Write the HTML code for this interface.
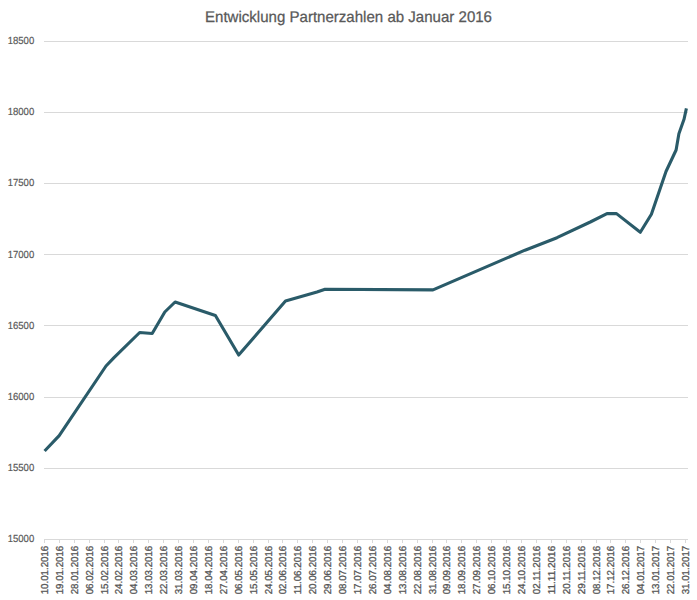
<!DOCTYPE html><html><head><meta charset="utf-8"><style>html,body{margin:0;padding:0;background:#fff;width:697px;height:600px;overflow:hidden}svg{display:block}text{font-family:"Liberation Sans",sans-serif;text-rendering:geometricPrecision}</style></head><body>
<svg width="697" height="600" viewBox="0 0 697 600">
<rect width="697" height="600" fill="#fff"/>
<g transform="translate(0 21.9) scale(1 1.03)"><text x="348.5" y="0" text-anchor="middle" font-size="15" fill="#595959" stroke="#595959" stroke-width="0.25" textLength="287" lengthAdjust="spacingAndGlyphs">Entwicklung Partnerzahlen ab Januar 2016</text></g>
<line x1="44" y1="41.5" x2="688" y2="41.5" stroke="#d9d9d9" stroke-width="1"/>
<text x="34.2" y="44.10" text-anchor="end" font-size="10.3" fill="#595959" stroke="#595959" stroke-width="0.2" textLength="26.5" lengthAdjust="spacingAndGlyphs">18500</text>
<line x1="44" y1="112.5" x2="688" y2="112.5" stroke="#d9d9d9" stroke-width="1"/>
<text x="34.2" y="115.10" text-anchor="end" font-size="10.3" fill="#595959" stroke="#595959" stroke-width="0.2" textLength="26.5" lengthAdjust="spacingAndGlyphs">18000</text>
<line x1="44" y1="183.5" x2="688" y2="183.5" stroke="#d9d9d9" stroke-width="1"/>
<text x="34.2" y="186.10" text-anchor="end" font-size="10.3" fill="#595959" stroke="#595959" stroke-width="0.2" textLength="26.5" lengthAdjust="spacingAndGlyphs">17500</text>
<line x1="44" y1="254.5" x2="688" y2="254.5" stroke="#d9d9d9" stroke-width="1"/>
<text x="34.2" y="258.00" text-anchor="end" font-size="10.3" fill="#595959" stroke="#595959" stroke-width="0.2" textLength="26.5" lengthAdjust="spacingAndGlyphs">17000</text>
<line x1="44" y1="325.5" x2="688" y2="325.5" stroke="#d9d9d9" stroke-width="1"/>
<text x="34.2" y="329.00" text-anchor="end" font-size="10.3" fill="#595959" stroke="#595959" stroke-width="0.2" textLength="26.5" lengthAdjust="spacingAndGlyphs">16500</text>
<line x1="44" y1="397.5" x2="688" y2="397.5" stroke="#d9d9d9" stroke-width="1"/>
<text x="34.2" y="400.10" text-anchor="end" font-size="10.3" fill="#595959" stroke="#595959" stroke-width="0.2" textLength="26.5" lengthAdjust="spacingAndGlyphs">16000</text>
<line x1="44" y1="468.5" x2="688" y2="468.5" stroke="#d9d9d9" stroke-width="1"/>
<text x="34.2" y="471.10" text-anchor="end" font-size="10.3" fill="#595959" stroke="#595959" stroke-width="0.2" textLength="26.5" lengthAdjust="spacingAndGlyphs">15500</text>
<line x1="44" y1="539.5" x2="688" y2="539.5" stroke="#d9d9d9" stroke-width="1"/>
<text x="34.2" y="542.10" text-anchor="end" font-size="10.3" fill="#595959" stroke="#595959" stroke-width="0.2" textLength="26.5" lengthAdjust="spacingAndGlyphs">15000</text>
<line x1="44.5" y1="540" x2="44.5" y2="543" stroke="#d9d9d9" stroke-width="1"/>
<text transform="translate(47.90,594.3) rotate(-90)" font-size="10" fill="#555" stroke="#555" stroke-width="0.3" textLength="48.5" lengthAdjust="spacingAndGlyphs">10.01.2016</text>
<line x1="59.5" y1="540" x2="59.5" y2="543" stroke="#d9d9d9" stroke-width="1"/>
<text transform="translate(62.81,594.3) rotate(-90)" font-size="10" fill="#555" stroke="#555" stroke-width="0.3" textLength="48.5" lengthAdjust="spacingAndGlyphs">19.01.2016</text>
<line x1="74.5" y1="540" x2="74.5" y2="543" stroke="#d9d9d9" stroke-width="1"/>
<text transform="translate(77.72,594.3) rotate(-90)" font-size="10" fill="#555" stroke="#555" stroke-width="0.3" textLength="48.5" lengthAdjust="spacingAndGlyphs">28.01.2016</text>
<line x1="89.5" y1="540" x2="89.5" y2="543" stroke="#d9d9d9" stroke-width="1"/>
<text transform="translate(92.63,594.3) rotate(-90)" font-size="10" fill="#555" stroke="#555" stroke-width="0.3" textLength="48.5" lengthAdjust="spacingAndGlyphs">06.02.2016</text>
<line x1="104.5" y1="540" x2="104.5" y2="543" stroke="#d9d9d9" stroke-width="1"/>
<text transform="translate(107.54,594.3) rotate(-90)" font-size="10" fill="#555" stroke="#555" stroke-width="0.3" textLength="48.5" lengthAdjust="spacingAndGlyphs">15.02.2016</text>
<line x1="118.5" y1="540" x2="118.5" y2="543" stroke="#d9d9d9" stroke-width="1"/>
<text transform="translate(122.45,594.3) rotate(-90)" font-size="10" fill="#555" stroke="#555" stroke-width="0.3" textLength="48.5" lengthAdjust="spacingAndGlyphs">24.02.2016</text>
<line x1="133.5" y1="540" x2="133.5" y2="543" stroke="#d9d9d9" stroke-width="1"/>
<text transform="translate(137.36,594.3) rotate(-90)" font-size="10" fill="#555" stroke="#555" stroke-width="0.3" textLength="48.5" lengthAdjust="spacingAndGlyphs">04.03.2016</text>
<line x1="148.5" y1="540" x2="148.5" y2="543" stroke="#d9d9d9" stroke-width="1"/>
<text transform="translate(152.27,594.3) rotate(-90)" font-size="10" fill="#555" stroke="#555" stroke-width="0.3" textLength="48.5" lengthAdjust="spacingAndGlyphs">13.03.2016</text>
<line x1="163.5" y1="540" x2="163.5" y2="543" stroke="#d9d9d9" stroke-width="1"/>
<text transform="translate(167.18,594.3) rotate(-90)" font-size="10" fill="#555" stroke="#555" stroke-width="0.3" textLength="48.5" lengthAdjust="spacingAndGlyphs">22.03.2016</text>
<line x1="178.5" y1="540" x2="178.5" y2="543" stroke="#d9d9d9" stroke-width="1"/>
<text transform="translate(182.09,594.3) rotate(-90)" font-size="10" fill="#555" stroke="#555" stroke-width="0.3" textLength="48.5" lengthAdjust="spacingAndGlyphs">31.03.2016</text>
<line x1="193.5" y1="540" x2="193.5" y2="543" stroke="#d9d9d9" stroke-width="1"/>
<text transform="translate(197.00,594.3) rotate(-90)" font-size="10" fill="#555" stroke="#555" stroke-width="0.3" textLength="48.5" lengthAdjust="spacingAndGlyphs">09.04.2016</text>
<line x1="208.5" y1="540" x2="208.5" y2="543" stroke="#d9d9d9" stroke-width="1"/>
<text transform="translate(211.91,594.3) rotate(-90)" font-size="10" fill="#555" stroke="#555" stroke-width="0.3" textLength="48.5" lengthAdjust="spacingAndGlyphs">18.04.2016</text>
<line x1="223.5" y1="540" x2="223.5" y2="543" stroke="#d9d9d9" stroke-width="1"/>
<text transform="translate(226.82,594.3) rotate(-90)" font-size="10" fill="#555" stroke="#555" stroke-width="0.3" textLength="48.5" lengthAdjust="spacingAndGlyphs">27.04.2016</text>
<line x1="238.5" y1="540" x2="238.5" y2="543" stroke="#d9d9d9" stroke-width="1"/>
<text transform="translate(241.73,594.3) rotate(-90)" font-size="10" fill="#555" stroke="#555" stroke-width="0.3" textLength="48.5" lengthAdjust="spacingAndGlyphs">06.05.2016</text>
<line x1="253.5" y1="540" x2="253.5" y2="543" stroke="#d9d9d9" stroke-width="1"/>
<text transform="translate(256.64,594.3) rotate(-90)" font-size="10" fill="#555" stroke="#555" stroke-width="0.3" textLength="48.5" lengthAdjust="spacingAndGlyphs">15.05.2016</text>
<line x1="268.5" y1="540" x2="268.5" y2="543" stroke="#d9d9d9" stroke-width="1"/>
<text transform="translate(271.55,594.3) rotate(-90)" font-size="10" fill="#555" stroke="#555" stroke-width="0.3" textLength="48.5" lengthAdjust="spacingAndGlyphs">24.05.2016</text>
<line x1="282.5" y1="540" x2="282.5" y2="543" stroke="#d9d9d9" stroke-width="1"/>
<text transform="translate(286.46,594.3) rotate(-90)" font-size="10" fill="#555" stroke="#555" stroke-width="0.3" textLength="48.5" lengthAdjust="spacingAndGlyphs">02.06.2016</text>
<line x1="297.5" y1="540" x2="297.5" y2="543" stroke="#d9d9d9" stroke-width="1"/>
<text transform="translate(301.37,594.3) rotate(-90)" font-size="10" fill="#555" stroke="#555" stroke-width="0.3" textLength="48.5" lengthAdjust="spacingAndGlyphs">11.06.2016</text>
<line x1="312.5" y1="540" x2="312.5" y2="543" stroke="#d9d9d9" stroke-width="1"/>
<text transform="translate(316.28,594.3) rotate(-90)" font-size="10" fill="#555" stroke="#555" stroke-width="0.3" textLength="48.5" lengthAdjust="spacingAndGlyphs">20.06.2016</text>
<line x1="327.5" y1="540" x2="327.5" y2="543" stroke="#d9d9d9" stroke-width="1"/>
<text transform="translate(331.19,594.3) rotate(-90)" font-size="10" fill="#555" stroke="#555" stroke-width="0.3" textLength="48.5" lengthAdjust="spacingAndGlyphs">29.06.2016</text>
<line x1="342.5" y1="540" x2="342.5" y2="543" stroke="#d9d9d9" stroke-width="1"/>
<text transform="translate(346.10,594.3) rotate(-90)" font-size="10" fill="#555" stroke="#555" stroke-width="0.3" textLength="48.5" lengthAdjust="spacingAndGlyphs">08.07.2016</text>
<line x1="357.5" y1="540" x2="357.5" y2="543" stroke="#d9d9d9" stroke-width="1"/>
<text transform="translate(361.01,594.3) rotate(-90)" font-size="10" fill="#555" stroke="#555" stroke-width="0.3" textLength="48.5" lengthAdjust="spacingAndGlyphs">17.07.2016</text>
<line x1="372.5" y1="540" x2="372.5" y2="543" stroke="#d9d9d9" stroke-width="1"/>
<text transform="translate(375.92,594.3) rotate(-90)" font-size="10" fill="#555" stroke="#555" stroke-width="0.3" textLength="48.5" lengthAdjust="spacingAndGlyphs">26.07.2016</text>
<line x1="387.5" y1="540" x2="387.5" y2="543" stroke="#d9d9d9" stroke-width="1"/>
<text transform="translate(390.83,594.3) rotate(-90)" font-size="10" fill="#555" stroke="#555" stroke-width="0.3" textLength="48.5" lengthAdjust="spacingAndGlyphs">04.08.2016</text>
<line x1="402.5" y1="540" x2="402.5" y2="543" stroke="#d9d9d9" stroke-width="1"/>
<text transform="translate(405.74,594.3) rotate(-90)" font-size="10" fill="#555" stroke="#555" stroke-width="0.3" textLength="48.5" lengthAdjust="spacingAndGlyphs">13.08.2016</text>
<line x1="417.5" y1="540" x2="417.5" y2="543" stroke="#d9d9d9" stroke-width="1"/>
<text transform="translate(420.65,594.3) rotate(-90)" font-size="10" fill="#555" stroke="#555" stroke-width="0.3" textLength="48.5" lengthAdjust="spacingAndGlyphs">22.08.2016</text>
<line x1="432.5" y1="540" x2="432.5" y2="543" stroke="#d9d9d9" stroke-width="1"/>
<text transform="translate(435.56,594.3) rotate(-90)" font-size="10" fill="#555" stroke="#555" stroke-width="0.3" textLength="48.5" lengthAdjust="spacingAndGlyphs">31.08.2016</text>
<line x1="446.5" y1="540" x2="446.5" y2="543" stroke="#d9d9d9" stroke-width="1"/>
<text transform="translate(450.47,594.3) rotate(-90)" font-size="10" fill="#555" stroke="#555" stroke-width="0.3" textLength="48.5" lengthAdjust="spacingAndGlyphs">09.09.2016</text>
<line x1="461.5" y1="540" x2="461.5" y2="543" stroke="#d9d9d9" stroke-width="1"/>
<text transform="translate(465.38,594.3) rotate(-90)" font-size="10" fill="#555" stroke="#555" stroke-width="0.3" textLength="48.5" lengthAdjust="spacingAndGlyphs">18.09.2016</text>
<line x1="476.5" y1="540" x2="476.5" y2="543" stroke="#d9d9d9" stroke-width="1"/>
<text transform="translate(480.29,594.3) rotate(-90)" font-size="10" fill="#555" stroke="#555" stroke-width="0.3" textLength="48.5" lengthAdjust="spacingAndGlyphs">27.09.2016</text>
<line x1="491.5" y1="540" x2="491.5" y2="543" stroke="#d9d9d9" stroke-width="1"/>
<text transform="translate(495.20,594.3) rotate(-90)" font-size="10" fill="#555" stroke="#555" stroke-width="0.3" textLength="48.5" lengthAdjust="spacingAndGlyphs">06.10.2016</text>
<line x1="506.5" y1="540" x2="506.5" y2="543" stroke="#d9d9d9" stroke-width="1"/>
<text transform="translate(510.11,594.3) rotate(-90)" font-size="10" fill="#555" stroke="#555" stroke-width="0.3" textLength="48.5" lengthAdjust="spacingAndGlyphs">15.10.2016</text>
<line x1="521.5" y1="540" x2="521.5" y2="543" stroke="#d9d9d9" stroke-width="1"/>
<text transform="translate(525.02,594.3) rotate(-90)" font-size="10" fill="#555" stroke="#555" stroke-width="0.3" textLength="48.5" lengthAdjust="spacingAndGlyphs">24.10.2016</text>
<line x1="536.5" y1="540" x2="536.5" y2="543" stroke="#d9d9d9" stroke-width="1"/>
<text transform="translate(539.93,594.3) rotate(-90)" font-size="10" fill="#555" stroke="#555" stroke-width="0.3" textLength="48.5" lengthAdjust="spacingAndGlyphs">02.11.2016</text>
<line x1="551.5" y1="540" x2="551.5" y2="543" stroke="#d9d9d9" stroke-width="1"/>
<text transform="translate(554.84,594.3) rotate(-90)" font-size="10" fill="#555" stroke="#555" stroke-width="0.3" textLength="48.5" lengthAdjust="spacingAndGlyphs">11.11.2016</text>
<line x1="566.5" y1="540" x2="566.5" y2="543" stroke="#d9d9d9" stroke-width="1"/>
<text transform="translate(569.75,594.3) rotate(-90)" font-size="10" fill="#555" stroke="#555" stroke-width="0.3" textLength="48.5" lengthAdjust="spacingAndGlyphs">20.11.2016</text>
<line x1="581.5" y1="540" x2="581.5" y2="543" stroke="#d9d9d9" stroke-width="1"/>
<text transform="translate(584.66,594.3) rotate(-90)" font-size="10" fill="#555" stroke="#555" stroke-width="0.3" textLength="48.5" lengthAdjust="spacingAndGlyphs">29.11.2016</text>
<line x1="596.5" y1="540" x2="596.5" y2="543" stroke="#d9d9d9" stroke-width="1"/>
<text transform="translate(599.57,594.3) rotate(-90)" font-size="10" fill="#555" stroke="#555" stroke-width="0.3" textLength="48.5" lengthAdjust="spacingAndGlyphs">08.12.2016</text>
<line x1="610.5" y1="540" x2="610.5" y2="543" stroke="#d9d9d9" stroke-width="1"/>
<text transform="translate(614.48,594.3) rotate(-90)" font-size="10" fill="#555" stroke="#555" stroke-width="0.3" textLength="48.5" lengthAdjust="spacingAndGlyphs">17.12.2016</text>
<line x1="625.5" y1="540" x2="625.5" y2="543" stroke="#d9d9d9" stroke-width="1"/>
<text transform="translate(629.39,594.3) rotate(-90)" font-size="10" fill="#555" stroke="#555" stroke-width="0.3" textLength="48.5" lengthAdjust="spacingAndGlyphs">26.12.2016</text>
<line x1="640.5" y1="540" x2="640.5" y2="543" stroke="#d9d9d9" stroke-width="1"/>
<text transform="translate(644.30,594.3) rotate(-90)" font-size="10" fill="#555" stroke="#555" stroke-width="0.3" textLength="48.5" lengthAdjust="spacingAndGlyphs">04.01.2017</text>
<line x1="655.5" y1="540" x2="655.5" y2="543" stroke="#d9d9d9" stroke-width="1"/>
<text transform="translate(659.21,594.3) rotate(-90)" font-size="10" fill="#555" stroke="#555" stroke-width="0.3" textLength="48.5" lengthAdjust="spacingAndGlyphs">13.01.2017</text>
<line x1="670.5" y1="540" x2="670.5" y2="543" stroke="#d9d9d9" stroke-width="1"/>
<text transform="translate(674.12,594.3) rotate(-90)" font-size="10" fill="#555" stroke="#555" stroke-width="0.3" textLength="48.5" lengthAdjust="spacingAndGlyphs">22.01.2017</text>
<line x1="685.5" y1="540" x2="685.5" y2="543" stroke="#d9d9d9" stroke-width="1"/>
<text transform="translate(689.03,594.3) rotate(-90)" font-size="10" fill="#555" stroke="#555" stroke-width="0.3" textLength="48.5" lengthAdjust="spacingAndGlyphs">31.01.2017</text>
<polyline points="44.6,451 59.2,435.6 106,366 114,357.6 139.7,332.5 152.2,333.5 164.8,312 175.1,302 215.4,315.5 238.7,355 285.5,301 317,292 325.1,289.2 433,289.9 525,250.2 557,237.7 590.3,222 607,213.6 616.5,213.6 640.3,232.3 651.4,214.2 666,171.5 676.1,150 678.9,133.8 684.1,119 686.4,108.3" fill="none" stroke="#2a5b69" stroke-width="3.1" stroke-linejoin="round" stroke-linecap="butt"/>
</svg></body></html>
